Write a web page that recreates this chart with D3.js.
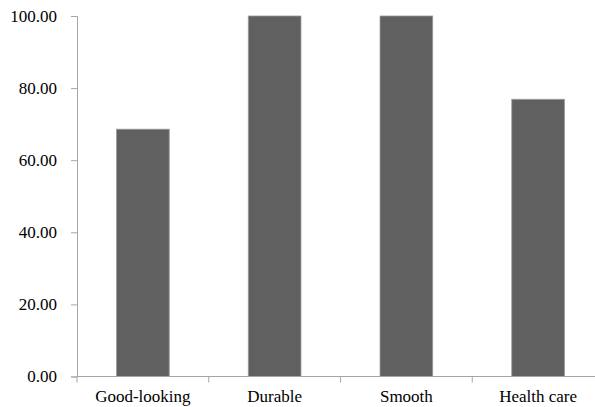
<!DOCTYPE html>
<html>
<head>
<meta charset="utf-8">
<script src="https://cdn.jsdelivr.net/npm/d3@7"></script>
<style>
  body { margin: 0; background: #fff; }
</style>
</head>
<body>
<svg id="chart" width="595" height="407"></svg>
<script>
// chart data
var categories = ["Good-looking", "Durable", "Smooth", "Health care"];
var values = [68.6, 100, 100, 76.9];
var yTicks = [0, 20, 40, 60, 80, 100];

var FONT = "'Liberation Serif', 'Times New Roman', serif";
var svg = d3.select("#chart");
var margin = { left: 77, right: 604, top: 16, bottom: 376.5 };

var x = d3.scaleBand().domain(categories).range([margin.left, margin.right])
    .paddingInner(0.6).paddingOuter(0.3);
var y = d3.scaleLinear().domain([0, 100]).range([margin.bottom, margin.top]);

// bars
svg.selectAll("rect.bar").data(values).enter().append("rect")
    .attr("class", "bar")
    .attr("x", function(d, i) { return x(categories[i]); })
    .attr("y", function(d) { return y(d); })
    .attr("width", x.bandwidth())
    .attr("height", function(d) { return y(0) - y(d); })
    .style("fill", "#606060")
    .style("stroke", "#9a9a9a")
    .style("stroke-width", 0.8);

// y axis
var yAxis = svg.append("g").attr("transform", "translate(" + margin.left + ",0)")
    .call(d3.axisLeft(y).tickValues(yTicks).tickSize(6).tickPadding(14)
        .tickFormat(d3.format(".2f")));
yAxis.selectAll("path, line").attr("stroke", "#a6a6a6");
yAxis.selectAll("text")
    .style("font-family", FONT)
    .style("font-size", "17px")
    .style("fill", "#000");

// x axis, ticks between categories
var step = x.step();
var xAxis = svg.append("g").attr("transform", "translate(0," + margin.bottom + ")");
xAxis.append("line").attr("x1", margin.left).attr("x2", margin.right).attr("stroke", "#a6a6a6");
xAxis.selectAll("line.tick").data(d3.range(categories.length)).enter().append("line")
    .attr("class", "tick")
    .attr("x1", function(i) { return margin.left + i * step; })
    .attr("x2", function(i) { return margin.left + i * step; })
    .attr("y1", 0).attr("y2", 6)
    .attr("stroke", "#a6a6a6");
xAxis.selectAll("text").data(categories).enter().append("text")
    .attr("x", function(d) { return x(d) + x.bandwidth() / 2; })
    .attr("y", 25)
    .attr("text-anchor", "middle")
    .style("font-family", FONT)
    .style("font-size", "17px")
    .style("fill", "#000")
    .text(function(d) { return d; });
</script>
</body>
</html>
